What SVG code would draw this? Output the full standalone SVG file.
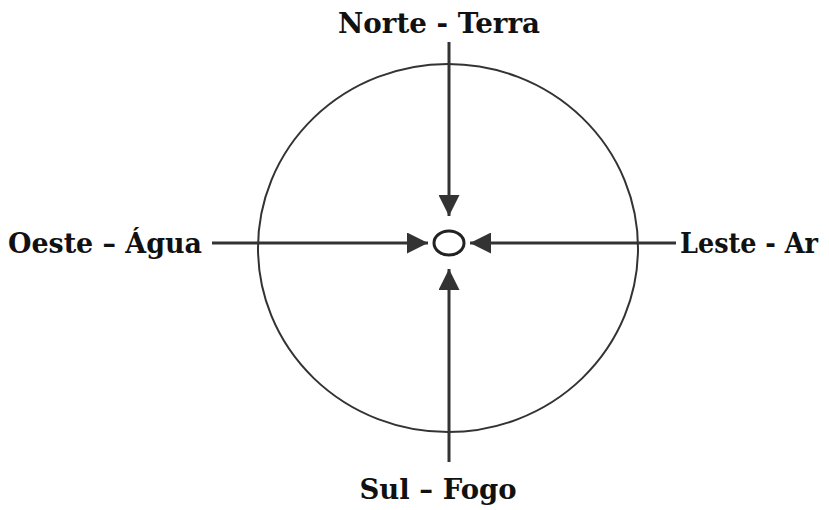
<svg xmlns="http://www.w3.org/2000/svg" width="829" height="510" viewBox="0 0 829 510">
<style>
.lbl{font-family:"DejaVu Serif","Liberation Serif",serif;font-weight:bold;font-size:27px;fill:#111}
.ln{stroke:#333;stroke-width:3;fill:none}
</style>
<defs>
<marker id="ah" viewBox="0 0 10 10" refX="10" refY="5" markerWidth="7" markerHeight="7" orient="auto" markerUnits="strokeWidth">
<path d="M0,0 L10,5 L0,10 z" fill="#333"/>
</marker>
</defs>
<rect width="829" height="510" fill="#fff"/>
<g id="circle"><ellipse cx="448" cy="248" rx="190" ry="184" fill="none" stroke="#333" stroke-width="2"/></g>
<g id="center"><ellipse cx="449" cy="243" rx="15" ry="12" fill="none" stroke="#222" stroke-width="3"/></g>
<g id="connectors">
<line class="ln" x1="449" y1="42" x2="449" y2="216" marker-end="url(#ah)"/>
<line class="ln" x1="449" y1="462" x2="449" y2="269" marker-end="url(#ah)"/>
<line class="ln" x1="212" y1="243" x2="428" y2="243" marker-end="url(#ah)"/>
<line class="ln" x1="676" y1="243" x2="470" y2="243" marker-end="url(#ah)"/>
</g>
<g id="norte"><text class="lbl" x="439" y="33" text-anchor="middle" textLength="202" lengthAdjust="spacingAndGlyphs">Norte - Terra</text></g>
<g id="oeste"><text class="lbl" x="8" y="253" textLength="194" lengthAdjust="spacingAndGlyphs">Oeste – Água</text></g>
<g id="leste"><text class="lbl" x="680" y="253" textLength="138" lengthAdjust="spacingAndGlyphs">Leste - Ar</text></g>
<g id="sul"><text class="lbl" x="438" y="499" text-anchor="middle" textLength="157" lengthAdjust="spacingAndGlyphs">Sul – Fogo</text></g>
</svg>
